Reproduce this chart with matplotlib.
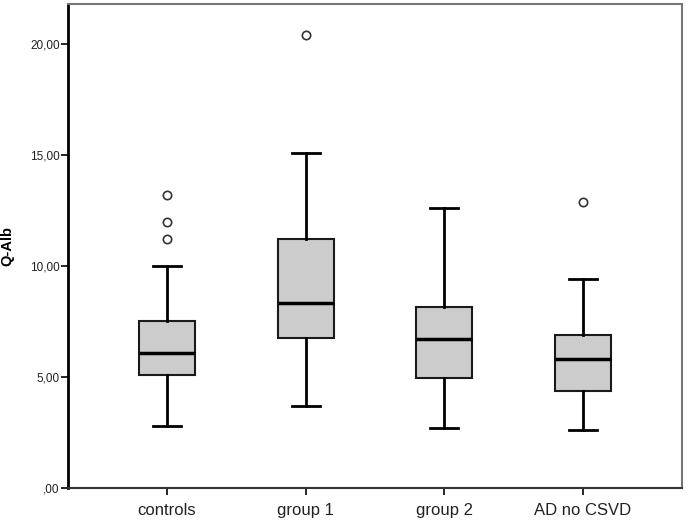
import matplotlib
matplotlib.use('Agg')
import matplotlib.pyplot as plt

plt.rcParams['font.family'] = ['Liberation Sans', 'DejaVu Sans']

# values
groups = ['controls', 'group 1', 'group 2', 'AD no CSVD']
whislo = [2.8, 3.7, 2.7, 2.6]
q1 = [5.1, 6.75, 4.95, 4.35]
med = [6.1, 8.35, 6.7, 5.8]
q3 = [7.5, 11.2, 8.15, 6.9]
whishi = [10.0, 15.1, 12.6, 9.4]
outliers = [[11.2, 12.0, 13.2], [20.4], [], [12.9]]

yticks = [0, 5, 10, 15, 20]
ytick_labels = [',00', '5,00', '10,00', '15,00', '20,00']

stats = []
for i in range(len(groups)):
    stats.append(dict(label=groups[i], whislo=whislo[i], q1=q1[i], med=med[i],
                      q3=q3[i], whishi=whishi[i], fliers=outliers[i]))

fig = plt.figure(figsize=(6.88, 5.23), dpi=100)
ax = fig.add_axes([68/688, 35/523, 614/688, 484/523])

ax.bxp(stats, positions=[1, 2, 3, 4], widths=0.404, patch_artist=True,
       boxprops=dict(facecolor='#cccccc', edgecolor='#1a1a1a', linewidth=1.5),
       medianprops=dict(color='black', linewidth=2.5),
       whiskerprops=dict(color='black', linewidth=2),
       capprops=dict(color='black', linewidth=2),
       capwidths=0.2,
       flierprops=dict(marker='o', markersize=6, markerfacecolor='white',
                       markeredgecolor='#333333', markeredgewidth=1.2))

ax.set_xlim(0.286, 4.714)
ax.set_ylim(0, 21.8)
ax.set_yticks(yticks)
ax.set_yticklabels(ytick_labels, fontsize=8.5, color='#222222')
ax.set_xticks([1, 2, 3, 4])
ax.set_xticklabels(groups, fontsize=12, color='#222222')
ax.tick_params(axis='y', direction='out', length=5, width=1.2, pad=1)
ax.tick_params(axis='x', direction='out', length=5, width=1.2, pad=6)
ax.set_ylabel('Q-Alb', fontsize=10.5, fontweight='bold')
ax.yaxis.set_label_coords(-0.087, 0.5)

ax.spines['left'].set_linewidth(2)
ax.spines['bottom'].set_linewidth(1.5)
ax.spines['bottom'].set_color('#333333')
ax.spines['top'].set_color('#777777')
ax.spines['right'].set_color('#777777')
ax.spines['top'].set_linewidth(1.5)
ax.spines['right'].set_linewidth(1.5)

fig.set_facecolor('white')
fig.savefig('out.png', dpi=100)
